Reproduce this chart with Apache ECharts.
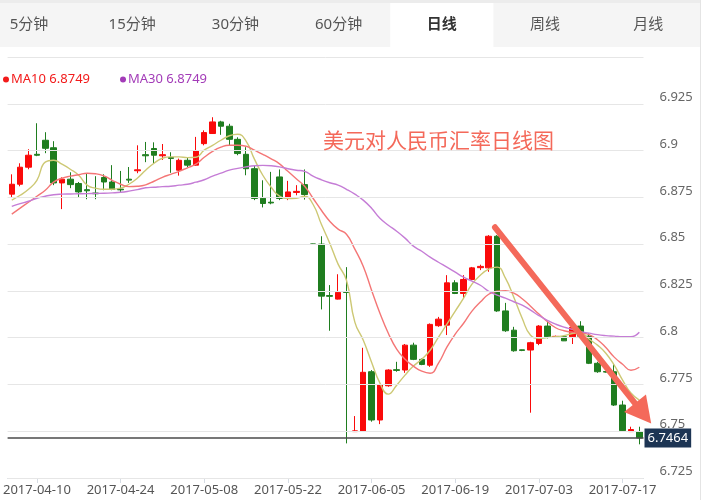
<!DOCTYPE html>
<html>
<head>
<meta charset="utf-8">
<script src="https://cdn.jsdelivr.net/npm/echarts@6/dist/echarts.min.js"></script>
<style>
html,body{margin:0;padding:0;background:#fff;}
#c{width:725px;height:500px;}
</style>
</head>
<body>
<div id="c"></div>
<script>
// ---- data ----
const dates = [
'2017-04-05','2017-04-06','2017-04-07',
'2017-04-10','2017-04-11','2017-04-12','2017-04-13','2017-04-14',
'2017-04-17','2017-04-18','2017-04-19','2017-04-20','2017-04-21',
'2017-04-24','2017-04-25','2017-04-26','2017-04-27','2017-04-28',
'2017-05-01','2017-05-02','2017-05-03','2017-05-04','2017-05-05',
'2017-05-08','2017-05-09','2017-05-10','2017-05-11','2017-05-12',
'2017-05-15','2017-05-16','2017-05-17','2017-05-18','2017-05-19',
'2017-05-22','2017-05-23','2017-05-24','2017-05-25','2017-05-26',
'2017-05-29','2017-05-30','2017-05-31',
'2017-06-01','2017-06-02',
'2017-06-05','2017-06-06','2017-06-07','2017-06-08','2017-06-09',
'2017-06-12','2017-06-13','2017-06-14','2017-06-15','2017-06-16',
'2017-06-19','2017-06-20','2017-06-21','2017-06-22','2017-06-23',
'2017-06-26','2017-06-27','2017-06-28','2017-06-29','2017-06-30',
'2017-07-03','2017-07-04','2017-07-05','2017-07-06','2017-07-07',
'2017-07-10','2017-07-11','2017-07-12','2017-07-13','2017-07-14',
'2017-07-17','2017-07-18','2017-07-19'
];
// [open, close, low, high]
const candles = [
[6.8767,6.8820,6.8751,6.8873],[6.8820,6.8911,6.8809,6.8932],[6.8911,6.8975,6.8900,6.9007],
[6.8980,6.8975,6.8970,6.9146],[6.9055,6.9012,6.8986,6.9098],[6.9015,6.8827,6.8815,6.9050],
[6.8827,6.8847,6.8687,6.8857],[6.8847,6.8818,6.8799,6.8884],[6.8824,6.8779,6.8752,6.8832],
[6.8791,6.8785,6.8740,6.8879],[6.8773,6.8769,6.8740,6.8863],[6.8856,6.8832,6.8788,6.8873],
[6.8832,6.8792,6.8788,6.8922],[6.8794,6.8790,6.8774,6.8891],[6.8847,6.8842,6.8827,6.8912],
[6.8892,6.8897,6.8879,6.9028],[6.8978,6.8972,6.8938,6.9046],[6.9011,6.8975,6.8932,6.9044],
[6.8972,6.8978,6.8950,6.9035],[6.8963,6.8958,6.8881,6.8991],[6.8895,6.8948,6.8866,6.8957],
[6.8948,6.8922,6.8911,6.8964],[6.8922,6.8999,6.8919,6.9073],[6.9037,6.9096,6.9028,6.9108],
[6.9091,6.9153,6.9090,6.9178],[6.9153,6.9130,6.9084,6.9159],[6.9130,6.9060,6.9026,6.9143],
[6.9060,6.8984,6.8975,6.9071],[6.8980,6.8903,6.8868,6.9018],[6.8903,6.8744,6.8735,6.8922],
[6.8745,6.8717,6.8696,6.8841],[6.8724,6.8720,6.8713,6.8886],[6.8859,6.8744,6.8735,6.8899],
[6.8747,6.8779,6.8735,6.8838],[6.8776,6.8782,6.8761,6.8815],[6.8818,6.8765,6.8738,6.8899],
[6.8501,6.8499,6.8498,6.8502],[6.8500,6.8222,6.8151,6.8542],[6.8225,6.8221,6.8037,6.8281],
[6.8206,6.8242,6.8204,6.8339],[6.8245,6.8242,6.7435,6.8377],[6.7498,6.7502,6.7497,6.7581],
[6.7501,6.7815,6.7498,6.7946],[6.7818,6.7560,6.7551,6.7827],[6.7560,6.7747,6.7538,6.7752],
[6.7743,6.7827,6.7738,6.7831],[6.7829,6.7825,6.7818,6.7871],[6.7827,6.7960,6.7812,6.7966],
[6.7960,6.7884,6.7880,6.7973],[6.7884,6.7857,6.7853,6.7889],[6.7853,6.8071,6.7844,6.8076],
[6.8064,6.8099,6.8058,6.8111],[6.8067,6.8293,6.8014,6.8334],[6.8293,6.8236,6.8233,6.8307],
[6.8236,6.8311,6.8210,6.8334],[6.8311,6.8373,6.8307,6.8378],[6.8374,6.8381,6.8361,6.8390],
[6.8373,6.8542,6.8352,6.8548],[6.8542,6.8143,6.8138,6.8548],[6.8143,6.8037,6.8031,6.8186],
[6.8040,6.7930,6.7925,6.8058],[6.7935,6.7932,6.7928,6.7936],[6.7934,6.7973,6.7599,6.7978],
[6.7969,6.8062,6.7960,6.8067],[6.8062,6.8005,6.7996,6.8085],[6.8003,6.8007,6.7998,6.8011],
[6.8005,6.7983,6.7982,6.8008],[6.8005,6.8055,6.7966,6.8062],[6.8062,6.8008,6.8005,6.8088],
[6.8008,6.7863,6.7859,6.8023],[6.7863,6.7818,6.7812,6.7871],[6.7819,6.7816,6.7813,6.7822],
[6.7818,6.7640,6.7635,6.7859],[6.7640,6.7503,6.7497,6.7663],[6.7498,6.7509,6.7497,6.7524],
[6.7498,6.7464,6.7430,6.7524]
];
const ma5 = [
6.8735,6.8761,6.8793,6.8841,6.8938,6.8948,6.8927,6.8900,6.8868,6.8815,
6.8799,6.8793,6.8793,6.8799,6.8820,6.8852,6.8895,6.8932,6.8959,6.8966,
6.8966,6.8962,6.8964,6.9002,6.9028,6.9055,6.9079,6.9087,6.9050,6.8954,
6.8868,6.8804,6.8756,6.8744,6.8745,6.8756,6.8713,6.8606,6.8505,6.8393,
6.8307,6.8083,6.7987,6.7869,6.7757,6.7698,6.7746,6.7800,6.7848,6.7885,
6.7933,6.8003,6.8072,6.8142,6.8211,6.8286,6.8334,6.8366,6.8377,6.8318,
6.8216,6.8104,6.8013,6.7997,6.8000,6.8005,6.8011,6.8022,6.8026,6.7992,
6.7960,6.7917,6.7853,6.7773,6.7704,6.7666
];
const ma10 = [
6.8660,6.8692,6.8724,6.8756,6.8788,6.8831,6.8852,6.8863,6.8871,6.8879,
6.8876,6.8865,6.8841,6.8820,6.8807,6.8809,6.8817,6.8836,6.8857,6.8873,
6.8889,6.8908,6.8927,6.8964,6.8996,6.9018,6.9028,6.9028,6.9023,6.9002,
6.8980,6.8956,6.8929,6.8889,6.8849,6.8809,6.8745,6.8681,6.8622,6.8580,
6.8553,6.8473,6.8382,6.8254,6.8131,6.8024,6.7939,6.7885,6.7848,6.7821,
6.7810,6.7864,6.7949,6.8019,6.8077,6.8142,6.8190,6.8232,6.8248,6.8251,
6.8238,6.8208,6.8168,6.8126,6.8086,6.8053,6.8037,6.8029,6.8026,6.8016,
6.7989,6.7947,6.7896,6.7858,6.7826,6.7842
];
const ma30 = [
6.8702,6.8716,6.8729,6.8745,6.8756,6.8764,6.8767,6.8768,6.8769,6.8770,
6.8771,6.8772,6.8774,6.8777,6.8783,6.8791,6.8801,6.8804,6.8807,6.8809,
6.8815,6.8820,6.8831,6.8844,6.8863,6.8879,6.8895,6.8905,6.8913,6.8919,
6.8921,6.8919,6.8913,6.8903,6.8895,6.8889,6.8863,6.8844,6.8828,6.8815,
6.8793,6.8767,6.8735,6.8692,6.8638,6.8601,6.8569,6.8532,6.8489,6.8462,
6.8430,6.8403,6.8377,6.8350,6.8323,6.8302,6.8280,6.8248,6.8227,6.8211,
6.8192,6.8174,6.8147,6.8118,6.8093,6.8072,6.8056,6.8045,6.8032,6.8024,
6.8016,6.8011,6.8008,6.8005,6.8005,6.8029
];
const tabs = ['5分钟','15分钟','30分钟','60分钟','日线','周线','月线'];
const activeTab = '日线';
const legendNames = ['MA10','MA30'];
const legendValues = ['6.8749','6.8749'];
const lastPrice = 6.7464;
const chartTitle = '美元对人民币汇率日线图';
const arrowFrom = [57.75, 6.859];   // [category index, value]
const arrowTo = [76.42, 6.7541];

// ---- colors ----
const UP = '#fa0a0a', DOWN = '#1f7d1f';
const C_MA5 = '#cdc874', C_MA10 = '#f47676', C_MA30 = '#c57dd6';
const LEG_COLORS = ['#f21b1b', '#a33cb8'];
const FONT = "'Noto Sans', 'Noto Sans CJK SC', sans-serif";

const chart = echarts.init(document.getElementById('c'), null, {renderer: 'canvas'});

function tabGraphics() {
  const els = [];
  const tabW = 103.2, firstCenter = 29;
  els.push({type: 'rect', id: 'tabbg', shape: {x: 0, y: 0, width: 700, height: 47}, style: {fill: '#f5f5f5'}, z: 0});
  els.push({type: 'rect', id: 'tabshadow', shape: {x: 0, y: 0, width: 700, height: 3}, style: {fill: '#ececec'}, z: 0});
  tabs.forEach((t, i) => {
    const cx = firstCenter + i * tabW;
    const active = t === activeTab;
    if (active) {
      els.push({type: 'rect', id: 'tabact', shape: {x: cx - tabW / 2, y: 3, width: tabW, height: 44}, style: {fill: '#ffffff'}, z: 1});
    }
    els.push({type: 'text', id: 'tab' + i, x: cx, y: 25, z: 2,
      style: {text: t, fill: active ? '#333' : '#555', font: (active ? 'bold 15px ' : '15px ') + FONT,
              textAlign: 'center', textVerticalAlign: 'middle'}});
  });
  els.push({type: 'rect', id: 'rborder', shape: {x: 700, y: 0, width: 1, height: 500}, style: {fill: '#e4e4e4'}, z: 3});
  return els;
}

const option = {
  animation: false,
  backgroundColor: '#ffffff',
  title: {
    text: chartTitle, left: 318, top: 125,
    textStyle: {color: '#f4695a', fontSize: 21, fontWeight: 'normal', fontFamily: "'Noto Sans CJK SC', sans-serif"}
  },
  legend: {
    left: 3, top: 73, padding: 0, itemGap: 30, itemWidth: 6, itemHeight: 6, icon: 'circle',
    selectedMode: false,
    formatter: name => name + ' ' + legendValues[legendNames.indexOf(name)],
    textStyle: {fontSize: 13, fontFamily: FONT, padding: [0, 0, 0, -3]},
    data: legendNames.map((n, i) => ({name: n, itemStyle: {color: LEG_COLORS[i]}, textStyle: {color: LEG_COLORS[i]}}))
  },
  grid: {left: 0, right: 81.5, top: 57, bottom: 22},
  xAxis: {
    type: 'category', data: dates, boundaryGap: true,
    axisLine: {lineStyle: {color: '#d6dce4', width: 1}},
    axisTick: {show: true, alignWithLabel: true, length: 5, interval: (i) => i % 10 === 3, lineStyle: {color: '#d6dce4'}},
    axisLabel: {interval: (i) => i % 10 === 3, color: '#555', fontSize: 13, fontFamily: FONT, margin: 6},
    splitLine: {show: false}
  },
  yAxis: {
    type: 'value', position: 'right', min: 6.725, max: 6.95, interval: 0.025, scale: true, z: 5,
    axisLine: {show: false}, axisTick: {show: false},
    axisLabel: {color: '#666', fontSize: 13, fontFamily: FONT, margin: 16, align: 'left', verticalAlign: 'bottom',
      showMaxLabel: false, formatter: v => String(parseFloat(v.toFixed(3)))},
    splitLine: {lineStyle: {color: '#e6e6e6', width: 1}}
  },
  series: [
    {
      name: 'K', type: 'candlestick', data: candles, barWidth: 6,
      itemStyle: {color: UP, color0: DOWN, borderColor: UP, borderColor0: DOWN, borderWidth: 1},
      markLine: {
        silent: true, symbol: ['none', 'none'], animation: false, precision: 4,
        lineStyle: {color: '#4a4a4a', width: 1.5, type: 'solid'},
        label: {position: 'end', distance: 1, formatter: () => lastPrice.toFixed(4), color: '#fff',
          backgroundColor: '#1d3554', padding: [2, 3, 2, 3], fontSize: 13, lineHeight: 15, fontFamily: FONT},
        data: [{yAxis: lastPrice}]
      }
    },
    {name: 'MA5', type: 'line', data: ma5, smooth: true, showSymbol: false, lineStyle: {color: C_MA5, width: 1.4}, itemStyle: {color: C_MA5}},
    {name: 'MA10', type: 'line', data: ma10, smooth: true, showSymbol: false, lineStyle: {color: C_MA10, width: 1.4}, itemStyle: {color: C_MA10}},
    {name: 'MA30', type: 'line', data: ma30, smooth: true, showSymbol: false, lineStyle: {color: C_MA30, width: 1.4}, itemStyle: {color: C_MA30}}
  ],
  graphic: {elements: tabGraphics()}
};
chart.setOption(option);

// arrow annotation placed through the chart's own scales
function toPx(pt) {
  const a = chart.convertToPixel({xAxisIndex: 0, yAxisIndex: 0}, [0, pt[1]]);
  const b = chart.convertToPixel({xAxisIndex: 0, yAxisIndex: 0}, [1, pt[1]]);
  return [a[0] + (b[0] - a[0]) * pt[0], a[1]];
}
const p0 = toPx(arrowFrom), p1 = toPx(arrowTo);
const dx = p1[0] - p0[0], dy = p1[1] - p0[1];
const len = Math.sqrt(dx * dx + dy * dy);
const ux = dx / len, uy = dy / len;
const headLen = 26, headHalf = 14;
const bx = p1[0] - ux * headLen, by = p1[1] - uy * headLen;
const arrowEls = [
  {type: 'line', id: 'arrowShaft', z: 50, shape: {x1: p0[0], y1: p0[1], x2: bx + ux * 2, y2: by + uy * 2},
   style: {stroke: '#f4695a', lineWidth: 6, lineCap: 'round'}},
  {type: 'polygon', id: 'arrowHead', z: 50,
   shape: {points: [[p1[0], p1[1]], [bx - uy * headHalf, by + ux * headHalf], [bx + uy * headHalf, by - ux * headHalf]]},
   style: {fill: '#f4695a'}}
];
chart.setOption({graphic: {elements: tabGraphics().concat(arrowEls)}});
</script>
</body>
</html>
